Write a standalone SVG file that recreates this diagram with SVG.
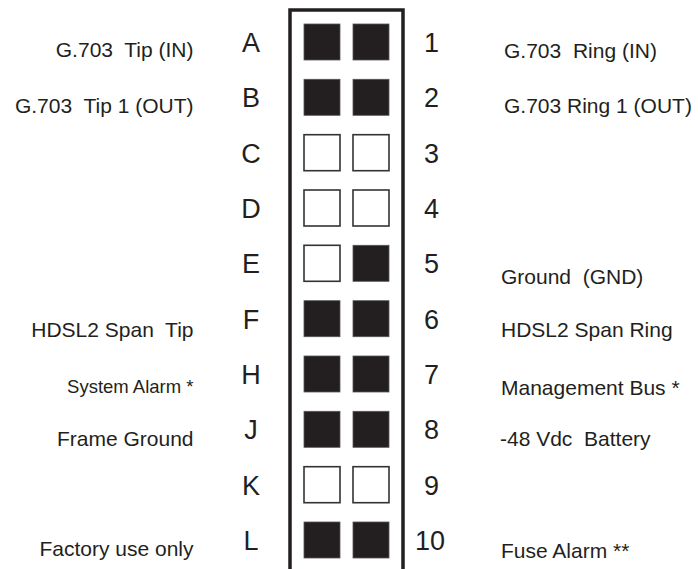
<svg xmlns="http://www.w3.org/2000/svg" width="698" height="569" viewBox="0 0 698 569">
<style>
text{font-family:"Liberation Sans",Arial,sans-serif;fill:#231f20;white-space:pre}
.pin{font-size:27px;text-anchor:middle}
.num{font-size:27px}
.lbl{font-size:21px}
.l{text-anchor:end}
.f{fill:#231f20;stroke:#555;stroke-width:0.8}
.o{fill:#fff;stroke:#333;stroke-width:1.6}
.box{fill:none;stroke:#231f20;stroke-width:3.5}
</style>
<rect width="698" height="569" fill="#fff"/>
<g id="connector">
<path class="box" d="M290,569 V10 H403 V569"/>
</g>
<g id="row-A"><rect class="f" x="304" y="24" width="36" height="36"/><rect class="f" x="353" y="24" width="36" height="36"/><text class="pin" x="251" y="52">A</text><text class="num" x="424" y="52">1</text><text class="lbl l" x="193.5" y="57">G.703  Tip (IN)</text><text class="lbl" x="504" y="58">G.703  Ring (IN)</text></g>
<g id="row-B"><rect class="f" x="304" y="79.3" width="36" height="36"/><rect class="f" x="353" y="79.3" width="36" height="36"/><text class="pin" x="251" y="107.3">B</text><text class="num" x="424" y="107.3">2</text><text class="lbl l" x="193.5" y="113">G.703  Tip 1 (OUT)</text><text class="lbl" x="504" y="113">G.703 Ring 1 (OUT)</text></g>
<g id="row-C"><rect class="o" x="304" y="134.7" width="36" height="36"/><rect class="o" x="353" y="134.7" width="36" height="36"/><text class="pin" x="251" y="162.7">C</text><text class="num" x="424" y="162.7">3</text></g>
<g id="row-D"><rect class="o" x="304" y="190" width="36" height="36"/><rect class="o" x="353" y="190" width="36" height="36"/><text class="pin" x="251" y="218">D</text><text class="num" x="424" y="218">4</text></g>
<g id="row-E"><rect class="o" x="304" y="245.3" width="36" height="36"/><rect class="f" x="353" y="245.3" width="36" height="36"/><text class="pin" x="251" y="273.3">E</text><text class="num" x="424" y="273.3">5</text><text class="lbl" x="501" y="284">Ground  (GND)</text></g>
<g id="row-F"><rect class="f" x="304" y="300.7" width="36" height="36"/><rect class="f" x="353" y="300.7" width="36" height="36"/><text class="pin" x="251" y="328.7">F</text><text class="num" x="424" y="328.7">6</text><text class="lbl l" x="193.5" y="337">HDSL2 Span  Tip</text><text class="lbl" x="501" y="337">HDSL2 Span Ring</text></g>
<g id="row-H"><rect class="f" x="304" y="356" width="36" height="36"/><rect class="f" x="353" y="356" width="36" height="36"/><text class="pin" x="251" y="384">H</text><text class="num" x="424" y="384">7</text><text class="lbl l" x="193.5" y="393" style="font-size:18.5px">System Alarm *</text><text class="lbl" x="501" y="395">Management Bus *</text></g>
<g id="row-J"><rect class="f" x="304" y="411.3" width="36" height="36"/><rect class="f" x="353" y="411.3" width="36" height="36"/><text class="pin" x="251" y="439.3">J</text><text class="num" x="424" y="439.3">8</text><text class="lbl l" x="193.5" y="446">Frame Ground</text><text class="lbl" x="500" y="446">-48 Vdc  Battery</text></g>
<g id="row-K"><rect class="o" x="304" y="466.7" width="36" height="36"/><rect class="o" x="353" y="466.7" width="36" height="36"/><text class="pin" x="251" y="494.7">K</text><text class="num" x="424" y="494.7">9</text></g>
<g id="row-L"><rect class="f" x="304" y="522" width="36" height="36"/><rect class="f" x="353" y="522" width="36" height="36"/><text class="pin" x="251" y="550">L</text><text class="num" x="415" y="550">10</text><text class="lbl l" x="193.5" y="556">Factory use only</text><text class="lbl" x="501" y="558">Fuse Alarm **</text></g>
</svg>
